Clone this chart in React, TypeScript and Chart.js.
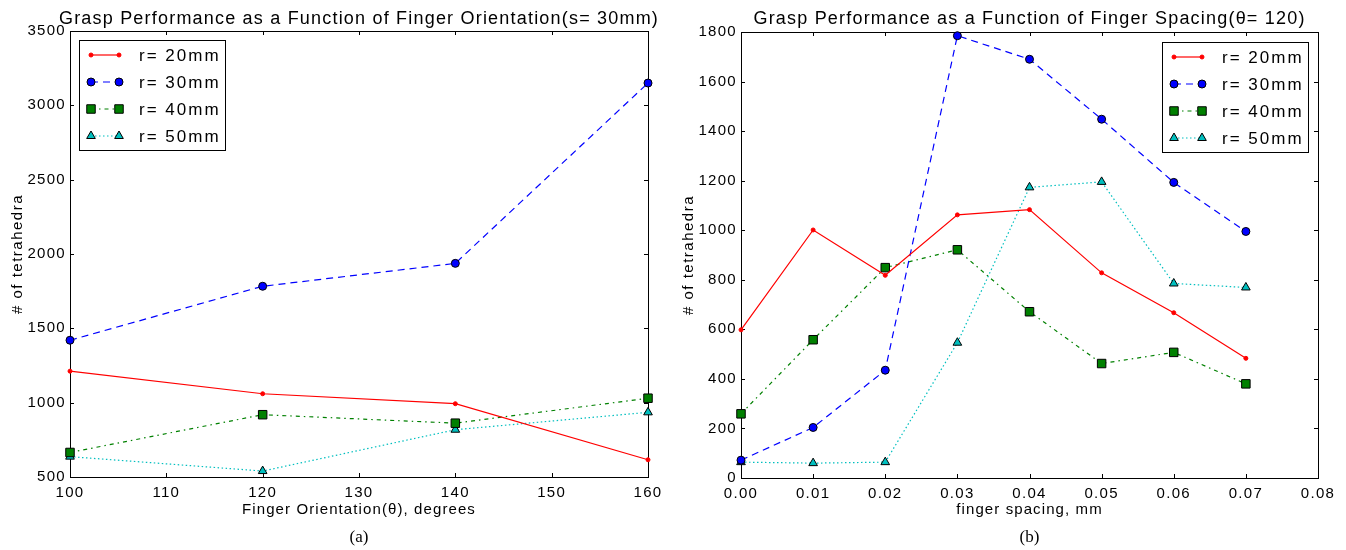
import React, { useEffect, useRef } from 'react';
import { Chart, registerables } from 'chart.js';

Chart.register(...registerables);

// ---------- shared series info ----------
const seriesLabels = ['r= 20mm', 'r= 30mm', 'r= 40mm', 'r= 50mm'];
const seriesColors = ['#ff0000', '#0000ff', '#008000', '#00bfbf'];

// ---------- panel (a): finger orientation ----------
const orientationX = [100, 120, 140, 160];
const orientationR20 = [1212, 1060, 993, 616];
const orientationR30 = [1420, 1783, 1937, 3150];
const orientationR40 = [665, 919, 862, 1030];
const orientationR50 = [637, 540, 818, 935];
const orientationXTicks = [100, 110, 120, 130, 140, 150, 160];
const orientationYTicks = [500, 1000, 1500, 2000, 2500, 3000, 3500];

// ---------- panel (b): finger spacing ----------
const spacingX = [0.0, 0.01, 0.02, 0.03, 0.04, 0.05, 0.06, 0.07];
const spacingR20 = [598, 1001, 818, 1062, 1083, 828, 667, 483];
const spacingR30 = [72, 204, 435, 1785, 1690, 1448, 1193, 995];
const spacingR40 = [259, 558, 849, 921, 671, 462, 507, 380];
const spacingR50 = [64, 60, 64, 546, 1173, 1195, 785, 769];
const spacingXTicks = [0.0, 0.01, 0.02, 0.03, 0.04, 0.05, 0.06, 0.07, 0.08];
const spacingYTicks = [0, 200, 400, 600, 800, 1000, 1200, 1400, 1600, 1800];

const seriesStyles = [
  { dash: [] as number[], point: 'circle', radius: 2, edge: '#ff0000' },
  { dash: [7, 5], point: 'circle', radius: 4, edge: '#000000' },
  { dash: [4, 4, 1.5, 4], point: 'rect', radius: 6, edge: '#000000' },
  { dash: [1.5, 2.5], point: 'triangle', radius: 5, edge: '#000000' },
];

const SANS = '"Liberation Sans", Arial, sans-serif';
const SERIF = '"Liberation Serif", "Times New Roman", serif';

function drawMarker(ctx: CanvasRenderingContext2D, style: string, x: number, y: number, r: number, fill: string, edge: string) {
  ctx.save();
  ctx.setLineDash([]);
  ctx.fillStyle = fill;
  ctx.strokeStyle = edge;
  ctx.lineWidth = 1;
  ctx.beginPath();
  if (style === 'circle') {
    ctx.arc(x, y, r, 0, Math.PI * 2);
  } else if (style === 'rect') {
    const s = Math.SQRT1_2 * r;
    ctx.rect(x - s, y - s, 2 * s, 2 * s);
  } else {
    const t = (2 * Math.PI) / 3;
    ctx.moveTo(x, y - r);
    ctx.lineTo(x + Math.sin(t) * r, y - Math.cos(t) * r);
    ctx.lineTo(x + Math.sin(2 * t) * r, y - Math.cos(2 * t) * r);
    ctx.closePath();
  }
  ctx.fill();
  ctx.stroke();
  ctx.restore();
}

function drawText(ctx: CanvasRenderingContext2D, s: string, x: number, y: number, font: string, align: CanvasTextAlign, spacing: number, rotate = 0) {
  ctx.save();
  ctx.font = font;
  (ctx as any).letterSpacing = spacing + 'px';
  ctx.fillStyle = '#000';
  ctx.textAlign = align;
  ctx.textBaseline = 'alphabetic';
  ctx.translate(x, y);
  if (rotate) ctx.rotate(rotate);
  ctx.fillText(s, 0, 0);
  ctx.restore();
}

type PanelOpts = {
  title: string;
  xLabel: string;
  caption: string;
  yLabelX: number;
  legendLeft: number | null;
  legendRight: number | null;
  legendTop: number;
};

function makeDecor(o: PanelOpts) {
  return {
    id: 'decor',
    beforeDraw(chart: any) {
      (chart.ctx as any).letterSpacing = '1.3px';
    },
    beforeDatasetsDraw(chart: any) {
      const ctx: CanvasRenderingContext2D = chart.ctx;
      const a = chart.chartArea;
      ctx.save();
      ctx.setLineDash([]);
      ctx.strokeStyle = '#000';
      ctx.lineWidth = 1;
      ctx.strokeRect(a.left + 0.5, a.top + 0.5, a.right - a.left, a.bottom - a.top);
      const tl = 4;
      ctx.beginPath();
      chart.scales.x.ticks.forEach((t: any) => {
        const px = Math.round(chart.scales.x.getPixelForValue(t.value)) + 0.5;
        ctx.moveTo(px, a.bottom);
        ctx.lineTo(px, a.bottom - tl);
        ctx.moveTo(px, a.top);
        ctx.lineTo(px, a.top + tl);
      });
      chart.scales.y.ticks.forEach((t: any) => {
        const py = Math.round(chart.scales.y.getPixelForValue(t.value)) + 0.5;
        ctx.moveTo(a.left, py);
        ctx.lineTo(a.left + tl, py);
        ctx.moveTo(a.right, py);
        ctx.lineTo(a.right - tl, py);
      });
      ctx.stroke();
      ctx.restore();
    },
    afterDraw(chart: any) {
      const ctx: CanvasRenderingContext2D = chart.ctx;
      const a = chart.chartArea;
      const cx = (a.left + a.right) / 2;
      drawText(ctx, o.title, cx, 24, `18px ${SANS}`, 'center', 1.2);
      drawText(ctx, o.xLabel, cx, 514, `15px ${SANS}`, 'center', 1.1);
      drawText(ctx, '# of tetrahedra', o.yLabelX, (a.top + a.bottom) / 2, `15px ${SANS}`, 'center', 1.5, -Math.PI / 2);
      drawText(ctx, o.caption, cx, 542, `17px ${SERIF}`, 'center', 0);

      // legend
      const w = 146;
      const h = 110;
      const lx = o.legendLeft !== null ? a.left + o.legendLeft : a.right - o.legendRight! - w;
      const ly = a.top + o.legendTop;
      ctx.save();
      ctx.setLineDash([]);
      ctx.fillStyle = '#fff';
      ctx.fillRect(lx, ly, w, h);
      ctx.strokeStyle = '#000';
      ctx.lineWidth = 1;
      ctx.strokeRect(lx + 0.5, ly + 0.5, w, h);
      ctx.restore();
      chart.data.datasets.forEach((ds: any, i: number) => {
        const ry = ly + 15 + 27 * i;
        const x1 = lx + 12;
        const x2 = lx + 40;
        ctx.save();
        ctx.strokeStyle = ds.borderColor;
        ctx.lineWidth = ds.borderWidth;
        ctx.setLineDash(ds.borderDash);
        ctx.beginPath();
        ctx.moveTo(x1, ry);
        ctx.lineTo(x2, ry);
        ctx.stroke();
        ctx.restore();
        drawMarker(ctx, ds.pointStyle, x1, ry, ds.pointRadius, ds.pointBackgroundColor, ds.pointBorderColor);
        drawMarker(ctx, ds.pointStyle, x2, ry, ds.pointRadius, ds.pointBackgroundColor, ds.pointBorderColor);
        ctx.save();
        ctx.font = `17px ${SANS}`;
        (ctx as any).letterSpacing = '2px';
        ctx.fillStyle = '#000';
        ctx.textAlign = 'left';
        ctx.textBaseline = 'middle';
        ctx.fillText(ds.label, lx + 60, ry + 1);
        ctx.restore();
      });
    },
  };
}

type PanelProps = {
  left: number;
  xs: number[];
  ys: number[][];
  xTicks: number[];
  yTicks: number[];
  xDigits: number;
  yAxisWidth: number;
  padTop: number;
  padRight: number;
  padBottom: number;
  decor: PanelOpts;
};

function Panel(p: PanelProps) {
  const ref = useRef<HTMLCanvasElement>(null);
  useEffect(() => {
    const datasets = p.ys.map((vals, i) => {
      const st = seriesStyles[i];
      return {
        label: seriesLabels[i],
        data: p.xs.map((x, j) => ({ x, y: vals[j] })),
        borderColor: seriesColors[i],
        backgroundColor: seriesColors[i],
        borderWidth: 1.2,
        borderDash: st.dash,
        pointStyle: st.point,
        pointRadius: st.radius,
        pointHoverRadius: st.radius,
        pointBackgroundColor: seriesColors[i],
        pointBorderColor: st.edge,
        pointBorderWidth: 1,
        tension: 0,
        clip: false,
      };
    });
    const tickFont = { family: SANS, size: 15 };
    const chart = new Chart(ref.current!, {
      type: 'line',
      data: { datasets } as any,
      plugins: [makeDecor(p.decor) as any],
      options: {
        responsive: false,
        animation: false,
        events: [],
        layout: { padding: { left: 0, top: p.padTop, right: p.padRight, bottom: p.padBottom } },
        plugins: { legend: { display: false }, title: { display: false }, tooltip: { enabled: false } },
        scales: {
          x: {
            type: 'linear',
            min: p.xTicks[0],
            max: p.xTicks[p.xTicks.length - 1],
            afterBuildTicks: (s: any) => {
              s.ticks = p.xTicks.map((v) => ({ value: v }));
            },
            afterFit: (s: any) => {
              s.height = 40;
            },
            grid: { display: false, drawTicks: false },
            border: { display: false },
            ticks: {
              font: tickFont,
              color: '#000',
              padding: 7,
              maxRotation: 0,
              autoSkip: false,
              callback: (v: any) => Number(v).toFixed(p.xDigits),
            },
          },
          y: {
            type: 'linear',
            min: p.yTicks[0],
            max: p.yTicks[p.yTicks.length - 1],
            afterBuildTicks: (s: any) => {
              s.ticks = p.yTicks.map((v) => ({ value: v }));
            },
            afterFit: (s: any) => {
              s.width = p.yAxisWidth;
            },
            grid: { display: false, drawTicks: false },
            border: { display: false },
            ticks: {
              font: tickFont,
              color: '#000',
              padding: 4,
              autoSkip: false,
              callback: (v: any) => String(v),
            },
          },
        },
      } as any,
    });
    return () => chart.destroy();
  }, []);
  return (
    <canvas
      ref={ref}
      width={673}
      height={550}
      style={{ position: 'absolute', left: p.left, top: 0, width: 673, height: 550 }}
    />
  );
}

export default function App() {
  return (
    <div style={{ position: 'absolute', left: 0, top: 0, width: 1346, height: 550, background: '#fff', overflow: 'hidden' }}>
      <Panel
        left={0}
        xs={orientationX}
        ys={[orientationR20, orientationR30, orientationR40, orientationR50]}
        xTicks={orientationXTicks}
        yTicks={orientationYTicks}
        xDigits={0}
        yAxisWidth={70}
        padTop={31}
        padRight={25}
        padBottom={33}
        decor={{
          title: 'Grasp Performance as a Function of Finger Orientation(s= 30mm)',
          xLabel: 'Finger Orientation(θ), degrees',
          caption: '(a)',
          yLabelX: 22,
          legendLeft: 9,
          legendRight: null,
          legendTop: 9,
        }}
      />
      <Panel
        left={673}
        xs={spacingX}
        ys={[spacingR20, spacingR30, spacingR40, spacingR50]}
        xTicks={spacingXTicks}
        yTicks={spacingYTicks}
        xDigits={2}
        yAxisWidth={68}
        padTop={32}
        padRight={28}
        padBottom={32}
        decor={{
          title: 'Grasp Performance as a Function of Finger Spacing(θ= 120)',
          xLabel: 'finger spacing, mm',
          caption: '(b)',
          yLabelX: 20,
          legendLeft: null,
          legendRight: 10,
          legendTop: 10,
        }}
      />
    </div>
  );
}
